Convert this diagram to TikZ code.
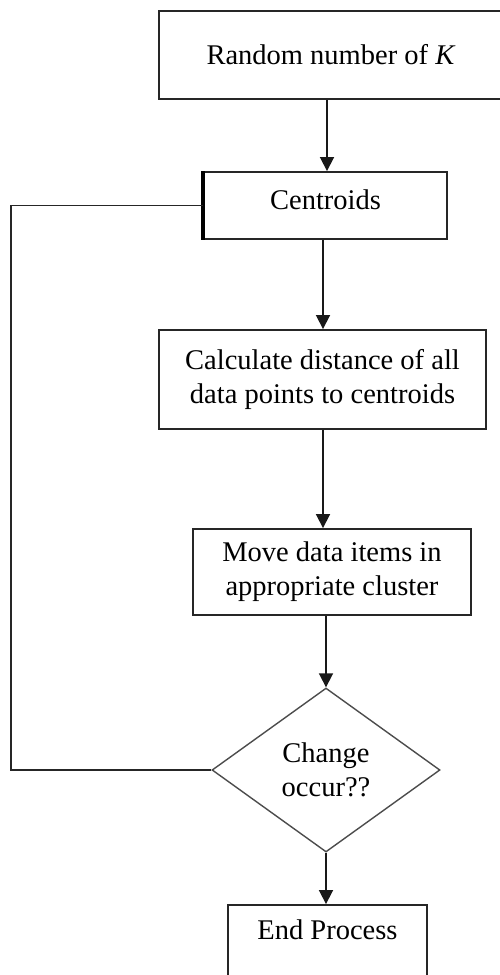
\documentclass[tikz,border=0pt]{standalone}
\usepackage{fontspec}
\setmainfont{Liberation Serif}
\usetikzlibrary{shapes.geometric,arrows.meta}
\begin{document}
\begin{tikzpicture}[x=1pt,y=-1pt,
  every node/.style={font=\fontsize{28.5}{34}\selectfont, text=black},
  procbox/.style={draw=black!85, line width=1.9pt, rectangle, inner sep=0pt, align=center},
  decbox/.style={draw=black!70, line width=1.4pt, diamond, inner sep=0pt, align=center},
  flow/.style={draw=black!90, line width=1.8pt, -{Triangle[length=14pt,width=14pt]}},
  loopline/.style={draw=black!85, line width=1.8pt}]
\useasboundingbox (0,0) rectangle (500,975);
\clip (0,0) rectangle (500,975);
\node[procbox, minimum width=344pt, minimum height=88pt] (rand) at (331,55) {Random number of \textit{K}};
\node[procbox, minimum width=243pt, minimum height=67pt, text depth=12pt] (cent) at (325.5,205.5) {Centroids};
\draw[black, line width=3.5pt] (cent.north west) -- (cent.south west);
\node[procbox, minimum width=327pt, minimum height=99pt] (calc) at (322.5,379.5) {Calculate distance of all\\data points to centroids};
\node[procbox, minimum width=278pt, minimum height=86pt] (move) at (332,572) {Move data items in\\appropriate cluster};
\node[decbox, minimum width=228pt, minimum height=164pt, aspect=1.39] (chg) at (326,770) {Change\\occur??};
\node[procbox, minimum width=199pt, minimum height=74pt, text depth=24pt] (endp) at (327.5,942) {End Process};
\coordinate (lb) at (11,770);
\coordinate (lt) at (11,205.5);
\draw[flow] (rand.south -| 327,0) -- (cent.north -| 327,0);
\draw[flow] (cent.south -| 323,0) -- (calc.north -| 323,0);
\draw[flow] (calc.south -| 323,0) -- (move.north -| 323,0);
\draw[flow] (move.south -| 326,0) -- (chg.north);
\draw[flow] (chg.south) -- (endp.north -| chg.south);
\draw[loopline] (chg.west) -- (lb) -- (lt) -- (cent.west);
\end{tikzpicture}
\end{document}
